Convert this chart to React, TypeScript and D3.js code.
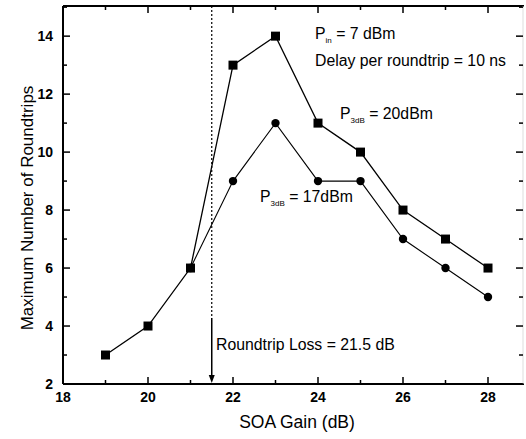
import React from "react";
import * as d3 from "d3";

const gain20 = [19, 20, 21, 22, 23, 24, 25, 26, 27, 28];
const trips20 = [3, 4, 6, 13, 14, 11, 10, 8, 7, 6];
const gain17 = [21, 22, 23, 24, 25, 26, 27, 28];
const trips17 = [6, 9, 11, 9, 9, 7, 6, 5];
const xTicks = [18, 20, 22, 24, 26, 28];
const yTicks = [2, 4, 6, 8, 10, 12, 14];
const lossGain = 21.5;

const W = 526;
const H = 439;
const left = 63;
const right = 524;
const top = 6;
const bottom = 384;

const font = "'Liberation Sans', Arial, sans-serif";

const App = () => {
  const x = d3.scaleLinear().domain([18, 18 + (right - left) / 42.5]).range([left, right]);
  const y = d3.scaleLinear().domain([2, 15.04]).range([bottom, top]);

  const line = d3
    .line<[number, number]>()
    .x((d) => x(d[0]))
    .y((d) => y(d[1]));

  const s20 = gain20.map((g, i) => [g, trips20[i]] as [number, number]);
  const s17 = gain17.map((g, i) => [g, trips17[i]] as [number, number]);

  const minorX = d3.range(18, 29, 1);
  const minorY = d3.range(2, 16, 1);

  return (
    <svg
      width={W}
      height={H}
      style={{ position: "absolute", left: 0, top: 0, background: "#fff" }}
      fontFamily={font}
    >
      {/* frame */}
      <line x1={left} x2={left} y1={top} y2={bottom} stroke="#000" strokeWidth={2} />
      <line x1={left} x2={right} y1={bottom} y2={bottom} stroke="#000" strokeWidth={2} />
      <line x1={left} x2={right} y1={top} y2={top} stroke="#000" strokeWidth={2} />
      <line x1={right - 1} x2={right - 1} y1={top} y2={bottom} stroke="#ddd" strokeWidth={1} />

      {/* x ticks bottom and top */}
      {minorX.map((t) => {
        const major = t % 2 === 0;
        const len = major ? 7 : 4;
        return (
          <g key={"x" + t}>
            <line x1={x(t)} x2={x(t)} y1={bottom} y2={bottom - len} stroke="#000" strokeWidth={1.5} />
            <line x1={x(t)} x2={x(t)} y1={top} y2={top + len} stroke="#000" strokeWidth={1.5} />
          </g>
        );
      })}
      {xTicks.map((t) => (
        <text key={"xl" + t} x={x(t)} y={402} fontSize={14} fontWeight="bold" textAnchor="middle">
          {t}
        </text>
      ))}

      {/* y ticks left and right */}
      {minorY.map((t) => {
        const major = t % 2 === 0;
        const len = major ? 7 : 4;
        return (
          <g key={"y" + t}>
            <line x1={left} x2={left + len} y1={y(t)} y2={y(t)} stroke="#000" strokeWidth={1.5} />
            <line x1={right - 1} x2={right - 1 - len} y1={y(t)} y2={y(t)} stroke="#000" strokeWidth={1.5} />
          </g>
        );
      })}
      {yTicks.map((t) => (
        <text key={"yl" + t} x={53} y={y(t) + 5} fontSize={14} fontWeight="bold" textAnchor="end">
          {t}
        </text>
      ))}

      {/* roundtrip loss marker */}
      <line
        x1={x(lossGain)}
        x2={x(lossGain)}
        y1={top}
        y2={318}
        stroke="#000"
        strokeWidth={1.2}
        strokeDasharray="2,2"
      />
      <line x1={x(lossGain)} x2={x(lossGain)} y1={318} y2={bottom - 6} stroke="#000" strokeWidth={1.5} />
      <path
        d={`M${x(lossGain) - 3},${bottom - 9} L${x(lossGain) + 3},${bottom - 9} L${x(lossGain)},${bottom - 1} Z`}
        fill="#000"
      />

      {/* series */}
      <path d={line(s17) || ""} fill="none" stroke="#000" strokeWidth={1.1} />
      <path d={line(s20) || ""} fill="none" stroke="#000" strokeWidth={1.3} />
      {s17.map((d, i) => (
        <circle key={"c" + i} cx={x(d[0])} cy={y(d[1])} r={4.2} fill="#000" />
      ))}
      {s20.map((d, i) => (
        <rect key={"r" + i} x={x(d[0]) - 4.5} y={y(d[1]) - 4.5} width={9} height={9} fill="#000" />
      ))}

      {/* annotations */}
      <text x={315} y={39} fontSize={15.8}>
        P<tspan fontSize={8} dy={4}>in</tspan>
        <tspan dy={-4}> = 7 dBm</tspan>
      </text>
      <text x={315} y={66} fontSize={15.8}>
        Delay per roundtrip = 10 ns
      </text>
      <text x={340} y={119} fontSize={15.8}>
        P<tspan fontSize={8} dy={4}>3dB</tspan>
        <tspan dy={-4}> = 20dBm</tspan>
      </text>
      <text x={260} y={202} fontSize={15.8}>
        P<tspan fontSize={8} dy={4}>3dB</tspan>
        <tspan dy={-4}> = 17dBm</tspan>
      </text>
      <text x={216} y={350} fontSize={15.8}>
        Roundtrip Loss = 21.5 dB
      </text>

      {/* axis titles */}
      <text x={297} y={428} fontSize={17.5} textAnchor="middle">
        SOA Gain (dB)
      </text>
      <text
        transform={`translate(33,208) rotate(-90)`}
        fontSize={17}
        textAnchor="middle"
      >
        Maximum Number of Roundtrips
      </text>
    </svg>
  );
};

export default App;
